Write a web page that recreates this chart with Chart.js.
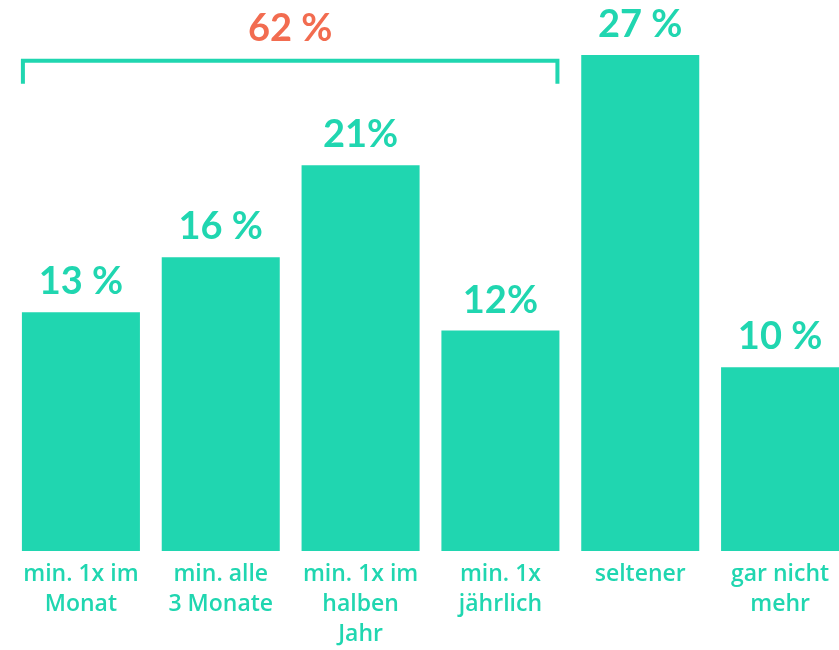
<!DOCTYPE html>
<html>
<head>
<meta charset="utf-8">
<script src="https://cdn.jsdelivr.net/npm/chart.js@4"></script>
<style>
  html, body { margin: 0; padding: 0; background: #fff; overflow: hidden; }
  .chart-box { position: relative; width: 850px; height: 650px; }
</style>
</head>
<body>
<div class="chart-box"><canvas id="bar-chart"></canvas></div>
<script>
// daten
const categories = [
  ['min. 1x im', 'Monat'],
  ['min. alle', '3 Monate'],
  ['min. 1x im', 'halben', 'Jahr'],
  ['min. 1x', 'jährlich'],
  ['seltener'],
  ['gar nicht', 'mehr']
];
const values = [13, 16, 21, 12, 27, 10];
const valueLabels = ['13 %', '16 %', '21%', '12%', '27 %', '10 %'];
const groupLabel = '62 %';
const groupFrom = 0;
const groupTo = 3;

const teal = '#20d6b0';
const orange = '#f26c50';
const fontFamily = 'Lato, "Open Sans", sans-serif';
const tickFamily = '"Open Sans", Lato, sans-serif';

// werte über balken + klammer
const labelPlugin = {
  id: 'valueLabels',
  afterDatasetsDraw(chart) {
    const ctx = chart.ctx;
    const bars = chart.getDatasetMeta(0).data;
    const yScale = chart.scales.y;
    ctx.save();
    ctx.font = 'bold 38px ' + fontFamily;
    ctx.textAlign = 'center';
    ctx.textBaseline = 'alphabetic';
    ctx.fillStyle = teal;
    bars.forEach((bar, i) => {
      ctx.fillText(valueLabels[i], bar.x, bar.y - 18);
    });

    // klammer über die ersten vier
    const left = bars[groupFrom].x - bars[groupFrom].width / 2 - 1;
    const right = bars[groupTo].x + bars[groupTo].width / 2;
    const top = yScale.getPixelForValue(26.8);
    ctx.strokeStyle = teal;
    ctx.lineWidth = 4;
    ctx.lineCap = 'butt';
    ctx.beginPath();
    ctx.moveTo(left + 2, top + 25);
    ctx.lineTo(left + 2, top + 2);
    ctx.lineTo(right - 2, top + 2);
    ctx.lineTo(right - 2, top + 25);
    ctx.stroke();

    ctx.fillStyle = orange;
    ctx.fillText(groupLabel, (left + right) / 2, top - 18);
    ctx.restore();
  }
};

const ctxBar = document.getElementById('bar-chart');

new Chart(ctxBar, {
  type: 'bar',
  data: {
    labels: categories,
    datasets: [{
      data: values,
      backgroundColor: teal,
      borderWidth: 0,
      categoryPercentage: 1,
      barPercentage: 0.844
    }]
  },
  options: {
    responsive: true,
    maintainAspectRatio: false,
    animation: false,
    layout: {
      padding: { left: 11, right: 0, top: 0, bottom: 0 }
    },
    plugins: {
      legend: { display: false },
      tooltip: { enabled: false }
    },
    scales: {
      x: {
        grid: { display: false, drawTicks: false },
        border: { display: false },
        afterFit: (scale) => { scale.height = 99; },
        ticks: {
          color: teal,
          autoSkip: false,
          maxRotation: 0,
          padding: 9,
          font: { family: tickFamily, size: 23, weight: 600, lineHeight: 1.3 }
        }
      },
      y: {
        display: false,
        min: 0,
        max: 30
      }
    }
  },
  plugins: [labelPlugin]
});
</script>
</body>
</html>
